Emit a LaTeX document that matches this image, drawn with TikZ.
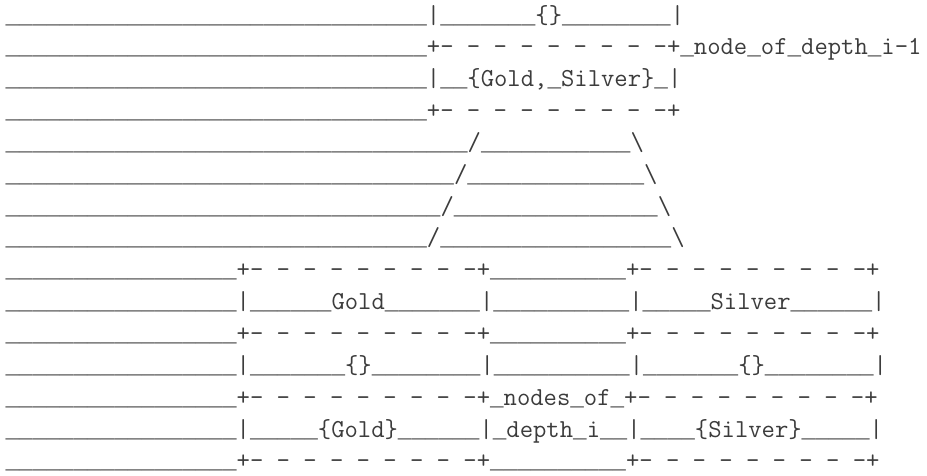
\documentclass[tikz,border=0pt]{standalone}
\usepackage{fontspec}
\newfontfamily\lmono{Liberation Mono}
\usepackage{xcolor}
\definecolor{ink}{HTML}{3C3C3C}
\ExplSyntaxOn
\cs_new:Npn \myrep #1#2 { \prg_replicate:nn {#1} {#2} }
\ExplSyntaxOff
\newcommand\ub{{\lmono\fontsize{22.65}{31}\selectfont\_}}
\newcommand\us[1]{\myrep{#1}{\ub}}
\newcommand\dsh{- - - - - - - - -}
\tikzset{
  asciiline/.style={anchor=base west, inner sep=0pt, text=ink,
    font=\fontsize{25.9}{31}\selectfont\ttfamily}
}
\begin{document}
\begin{tikzpicture}
\useasboundingbox[fill=white] (0pt,0pt) rectangle (927pt,-475pt);
\node[asciiline] (l1)  at (5.4pt,-23.0pt)  {\us{31}|\us{7}\{\}\us{8}|};
\node[asciiline] (l2)  at (5.4pt,-54.85pt) {\us{31}+\dsh+\ub node\ub of\ub depth\ub i-1};
\node[asciiline] (l3)  at (5.4pt,-86.7pt)  {\us{31}|\us{2}\{Gold,\ub Silver\}\ub|};
\node[asciiline] (l4)  at (5.4pt,-118.55pt){\us{31}+\dsh+};
\node[asciiline] (l5)  at (5.4pt,-150.4pt) {\us{34}/\us{11}\textbackslash};
\node[asciiline] (l6)  at (5.4pt,-182.25pt){\us{33}/\us{13}\textbackslash};
\node[asciiline] (l7)  at (5.4pt,-214.1pt) {\us{32}/\us{15}\textbackslash};
\node[asciiline] (l8)  at (5.4pt,-245.95pt){\us{31}/\us{17}\textbackslash};
\node[asciiline] (l9)  at (5.4pt,-277.8pt) {\us{17}+\dsh+\us{10}+\dsh+};
\node[asciiline] (l10) at (5.4pt,-309.65pt){\us{17}|\us{6}Gold\us{7}|\us{10}|\us{5}Silver\us{6}|};
\node[asciiline] (l11) at (5.4pt,-341.5pt) {\us{17}+\dsh+\us{10}+\dsh+};
\node[asciiline] (l12) at (5.4pt,-373.35pt){\us{17}|\us{7}\{\}\us{8}|\us{10}|\us{7}\{\}\us{8}|};
\node[asciiline] (l13) at (5.4pt,-405.2pt) {\us{17}+\dsh+\ub nodes\ub of\ub+\dsh+};
\node[asciiline] (l14) at (5.4pt,-437.05pt){\us{17}|\us{5}\{Gold\}\us{6}|\ub depth\ub i\us{2}|\us{4}\{Silver\}\us{5}|};
\node[asciiline] (l15) at (5.4pt,-468.9pt) {\us{17}+\dsh+\us{10}+\dsh+};
\end{tikzpicture}
\end{document}
